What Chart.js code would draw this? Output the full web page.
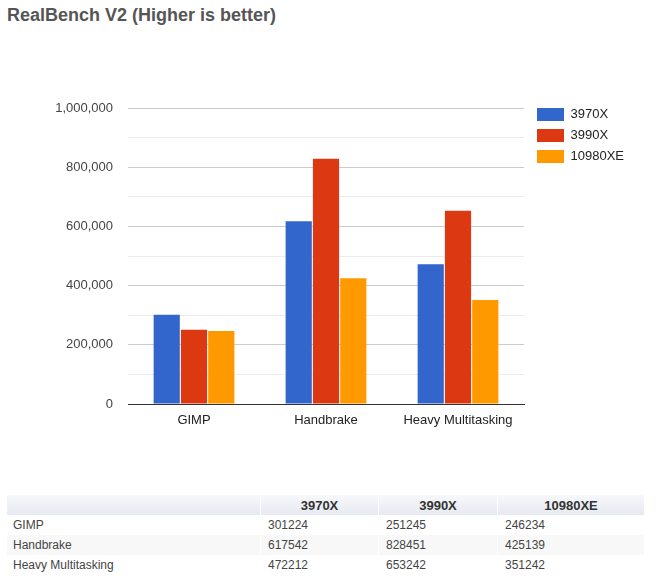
<!DOCTYPE html>
<html>
<head>
<meta charset="utf-8">
<script src="https://cdn.jsdelivr.net/npm/chart.js@4.4.0/dist/chart.umd.min.js"></script>
<style>
    body { margin: 0; background: #fff; font-family: Arial, "Liberation Sans", sans-serif; }
    #contenedor { position: relative; width: 657px; height: 586px; }
    #titulo { position: absolute; left: 7px; top: 6px; font-size: 18px; line-height: 18px; font-weight: bold; color: #555; white-space: nowrap; }
    #lienzo { position: absolute; left: 0; top: 0; width: 657px; height: 450px; }
    #tabla { position: absolute; left: 6px; top: 495px; border-collapse: collapse; font-size: 12px; color: #444; }
    #tabla th { height: 20px; padding: 0; font-size: 13px; color: #333; text-align: center;
        background: linear-gradient(to bottom, #f7f8fb 0%, #e6e9f1 100%); border-left: 1px solid #fff; border-right: 1px solid #fff; }
    #tabla td { height: 20px; padding: 0 0 0 7px; text-align: left; border-left: 1px solid #fff; border-right: 1px solid #fff; }
    #tabla td:first-child { padding-left: 6px; }
    #tabla tbody tr:nth-child(even) td { background: #f8f8f8; }
</style>
</head>
<body>
<div id="contenedor">
    <div id="titulo">RealBench V2 (Higher is better)</div>
    <canvas id="lienzo" width="657" height="450"></canvas>
    <table id="tabla">
        <thead><tr id="cabecera"></tr></thead>
        <tbody id="cuerpo"></tbody>
    </table>
</div>
<script>
const pruebas = ['GIMP', 'Handbrake', 'Heavy Multitasking'];
const procesadores = ['3970X', '3990X', '10980XE'];
const valores3970X = [301224, 617542, 472212];
const valores3990X = [251245, 828451, 653242];
const valores10980XE = [246234, 425139, 351242];
const colores = ['#3366cc', '#dc3912', '#ff9900'];
const ticksY = [0, 200000, 400000, 600000, 800000, 1000000];

const series = [valores3970X, valores3990X, valores10980XE];

// La leyenda ocupa un ancho fijo a la derecha y se sube un poco
const ajustarLeyenda = {
    id: 'ajustarLeyenda',
    beforeLayout(chart) {
        const leyenda = chart.legend;
        if (leyenda && !leyenda._fitParchado) {
            const fitOriginal = leyenda.fit;
            leyenda.fit = function () {
                fitOriginal.call(this);
                this.width = 133;
            };
            leyenda._fitParchado = true;
        }
    },
    afterLayout(chart) {
        chart.legend.top -= 8;
        chart.legend.left += 5;
    }
};

function llenarTabla() {
    const cabecera = document.getElementById('cabecera');
    const anchos = [253, 117, 118, 146];
    const primera = document.createElement('th');
    primera.style.width = anchos[0] + 'px';
    cabecera.appendChild(primera);
    procesadores.forEach((p, i) => {
        const th = document.createElement('th');
        th.textContent = p;
        th.style.width = anchos[i + 1] + 'px';
        cabecera.appendChild(th);
    });

    const cuerpo = document.getElementById('cuerpo');
    pruebas.forEach((prueba, j) => {
        const tr = document.createElement('tr');
        const td = document.createElement('td');
        td.textContent = prueba;
        tr.appendChild(td);
        series.forEach(s => {
            const celda = document.createElement('td');
            celda.textContent = s[j];
            tr.appendChild(celda);
        });
        cuerpo.appendChild(tr);
    });
}

function crearGrafico() {
    const ctx = document.getElementById('lienzo').getContext('2d');

    new Chart(ctx, {
        type: 'bar',
        data: {
            labels: pruebas,
            datasets: procesadores.map((p, i) => ({
                label: p,
                data: series[i],
                backgroundColor: colores[i],
                borderWidth: 0,
                categoryPercentage: 0.62,
                barPercentage: 0.96
            }))
        },
        options: {
            responsive: false,
            animation: false,
            devicePixelRatio: 1,
            layout: { padding: { top: 108, bottom: 16, left: 0, right: 0 } },
            plugins: {
                title: { display: false },
                tooltip: { enabled: false },
                legend: {
                    position: 'right',
                    align: 'start',
                    labels: {
                        boxWidth: 27,
                        boxHeight: 13,
                        padding: 8,
                        color: '#222',
                        font: { family: 'Arial', size: 13 }
                    }
                }
            },
            scales: {
                x: {
                    grid: { display: false },
                    border: { display: true, color: '#333', width: 1 },
                    ticks: { color: '#222', padding: 1, font: { family: 'Arial', size: 13 } },
                    afterFit: function (axis) { axis.height = 30; }
                },
                y: {
                    min: 0,
                    max: 1000000,
                    border: { display: false },
                    grid: {
                        drawTicks: false,
                        color: function (c) {
                            if (c.tick.value === 0) return '#333';
                            return ticksY.includes(c.tick.value) ? '#cccccc' : '#ebebeb';
                        }
                    },
                    ticks: {
                        stepSize: 100000,
                        padding: 15,
                        color: '#444',
                        font: { family: 'Arial', size: 13 },
                        callback: function (v) {
                            return ticksY.includes(v) ? v.toLocaleString('en-US') : '';
                        }
                    },
                    afterFit: function (axis) { axis.width = 128; }
                }
            }
        },
        plugins: [ajustarLeyenda]
    });
}

llenarTabla();
crearGrafico();
</script>
</body>
</html>
